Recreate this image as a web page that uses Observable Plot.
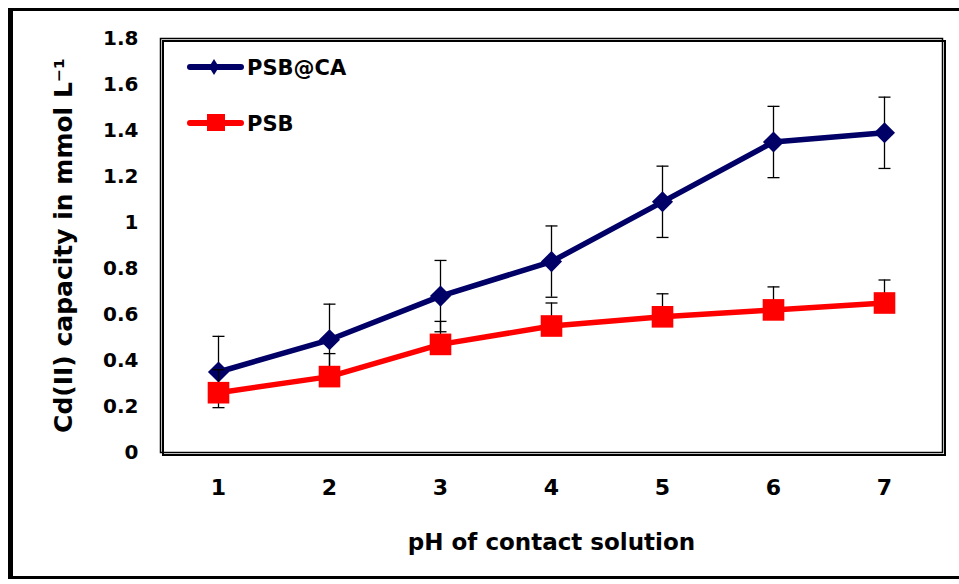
<!DOCTYPE html>
<html>
<head>
<meta charset="utf-8">
<script src="https://cdn.jsdelivr.net/npm/d3@7"></script>
<script src="https://cdn.jsdelivr.net/npm/@observablehq/plot@0.6"></script>
<style>
  html, body { margin: 0; padding: 0; background: #fff; }
  #wrap { position: relative; width: 959px; height: 584px; overflow: hidden; font-family: "DejaVu Sans", sans-serif; font-weight: bold; }
  #outer { position: absolute; left: 8px; top: 8px; width: 970px; height: 571px; border: 3px solid #000; border-left-width: 5px; box-sizing: border-box; pointer-events: none; }
  #chart { position: absolute; left: 0; top: 0; }
  #legend { position: absolute; left: 0; top: 0; }
  #chart svg [aria-label="x-axis label"] text { font-size: 23px; }
  #chart svg [aria-label="y-axis label"] text { font-size: 25px; }
</style>
</head>
<body>
<div id="wrap">
  <div id="chart"></div>
  <div id="outer"></div>
  <svg id="legend" width="400" height="160"></svg>
</div>
<script>
const ph = [1, 2, 3, 4, 5, 6, 7];
const psbCA = [0.35, 0.49, 0.68, 0.83, 1.09, 1.35, 1.39];
const psbCAErr = [0.155, 0.155, 0.155, 0.155, 0.155, 0.155, 0.155];
const psb = [0.26, 0.33, 0.47, 0.55, 0.59, 0.62, 0.65];
const psbErr = [0.10, 0.10, 0.10, 0.10, 0.10, 0.10, 0.10];
const yTicks = [0, 0.2, 0.4, 0.6, 0.8, 1, 1.2, 1.4, 1.6, 1.8];
const seriesNames = ["PSB@CA", "PSB"];
const seriesColors = ["#000066", "#ff0000"];

// PSB@CA has two-sided error bars; PSB shows only the upper (plus) bar
const rowsCA = ph.map((p, i) => ({ph: p, v: psbCA[i], lo: psbCA[i] - psbCAErr[i], hi: psbCA[i] + psbCAErr[i]}));
const rowsB = ph.map((p, i) => ({ph: p, v: psb[i], lo: psb[i], hi: psb[i] + psbErr[i]}));

// horizontal cap symbol for error bars
const capSymbol = {
  draw(context, size) {
    const r = Math.sqrt(size / Math.PI);
    context.moveTo(-r, 0);
    context.lineTo(r, 0);
  }
};

function errorMarks(rows, twoSided) {
  const marks = [
    Plot.ruleX(rows, {x: "ph", y1: "lo", y2: "hi", stroke: "#000", strokeWidth: 1.3}),
    Plot.dot(rows, {x: "ph", y: "hi", symbol: capSymbol, r: 6, stroke: "#000", strokeWidth: 1.3, fill: "none"})
  ];
  if (twoSided) marks.push(Plot.dot(rows, {x: "ph", y: "lo", symbol: capSymbol, r: 6, stroke: "#000", strokeWidth: 1.3, fill: "none"}));
  return marks;
}

const chart = Plot.plot({
  width: 959,
  height: 584,
  marginLeft: 160,
  marginRight: 17,
  marginTop: 38,
  marginBottom: 132,
  style: {fontFamily: "DejaVu Sans", fontWeight: "bold", fontSize: "20px", color: "#000", background: "transparent"},
  x: {type: "point", domain: ph, padding: 0.5},
  y: {domain: [0, 1.8]},
  marks: [
    Plot.axisY({ticks: yTicks, tickSize: 0, tickPadding: 22, tickFormat: d => String(d), fontSize: 20,
      label: "Cd(II) capacity in mmol L⁻¹", labelArrow: "none", labelAnchor: "center", labelOffset: 106}),
    Plot.axisX({tickSize: 0, tickPadding: 27, fontSize: 22,
      label: "pH of contact solution", labelArrow: "none", labelAnchor: "center", labelOffset: 97}),
    Plot.frame({stroke: "#000", strokeWidth: 1.5}),
    Plot.frame({stroke: "#000", strokeWidth: 2, dx: 2.5, dy: 2.5}),
    ...errorMarks(rowsCA, true),
    Plot.line(rowsCA, {x: "ph", y: "v", stroke: seriesColors[0], strokeWidth: 5.5}),
    Plot.dot(rowsCA, {x: "ph", y: "v", symbol: "diamond2", r: 9.5, fill: seriesColors[0], stroke: "none"}),
    ...errorMarks(rowsB, false),
    Plot.line(rowsB, {x: "ph", y: "v", stroke: seriesColors[1], strokeWidth: 5.5}),
    Plot.dot(rowsB, {x: "ph", y: "v", symbol: "square", r: 12.2, fill: seriesColors[1], stroke: "none"})
  ]
});
document.getElementById("chart").appendChild(chart);

// Legend (inside the plot frame, top-left)
const lg = d3.select("#legend");
const legendRows = [
  {name: seriesNames[0], color: seriesColors[0], cy: 67, shape: "diamond"},
  {name: seriesNames[1], color: seriesColors[1], cy: 123, shape: "square"}
];
legendRows.forEach(r => {
  lg.append("line").attr("x1", 190).attr("x2", 241).attr("y1", r.cy).attr("y2", r.cy)
    .attr("stroke", r.color).attr("stroke-width", 6).attr("stroke-linecap", "round");
  if (r.shape === "diamond") {
    lg.append("path").attr("d", `M214,${r.cy - 8}L219,${r.cy}L214,${r.cy + 8}L209,${r.cy}Z`).attr("fill", r.color);
  } else {
    lg.append("rect").attr("x", 207).attr("y", r.cy - 9).attr("width", 18).attr("height", 17).attr("fill", r.color);
  }
  lg.append("text").attr("x", 247).attr("y", r.cy + 8).text(r.name)
    .attr("font-family", "DejaVu Sans").attr("font-weight", "bold").attr("font-size", 21).attr("fill", "#000");
});
</script>
</body>
</html>
